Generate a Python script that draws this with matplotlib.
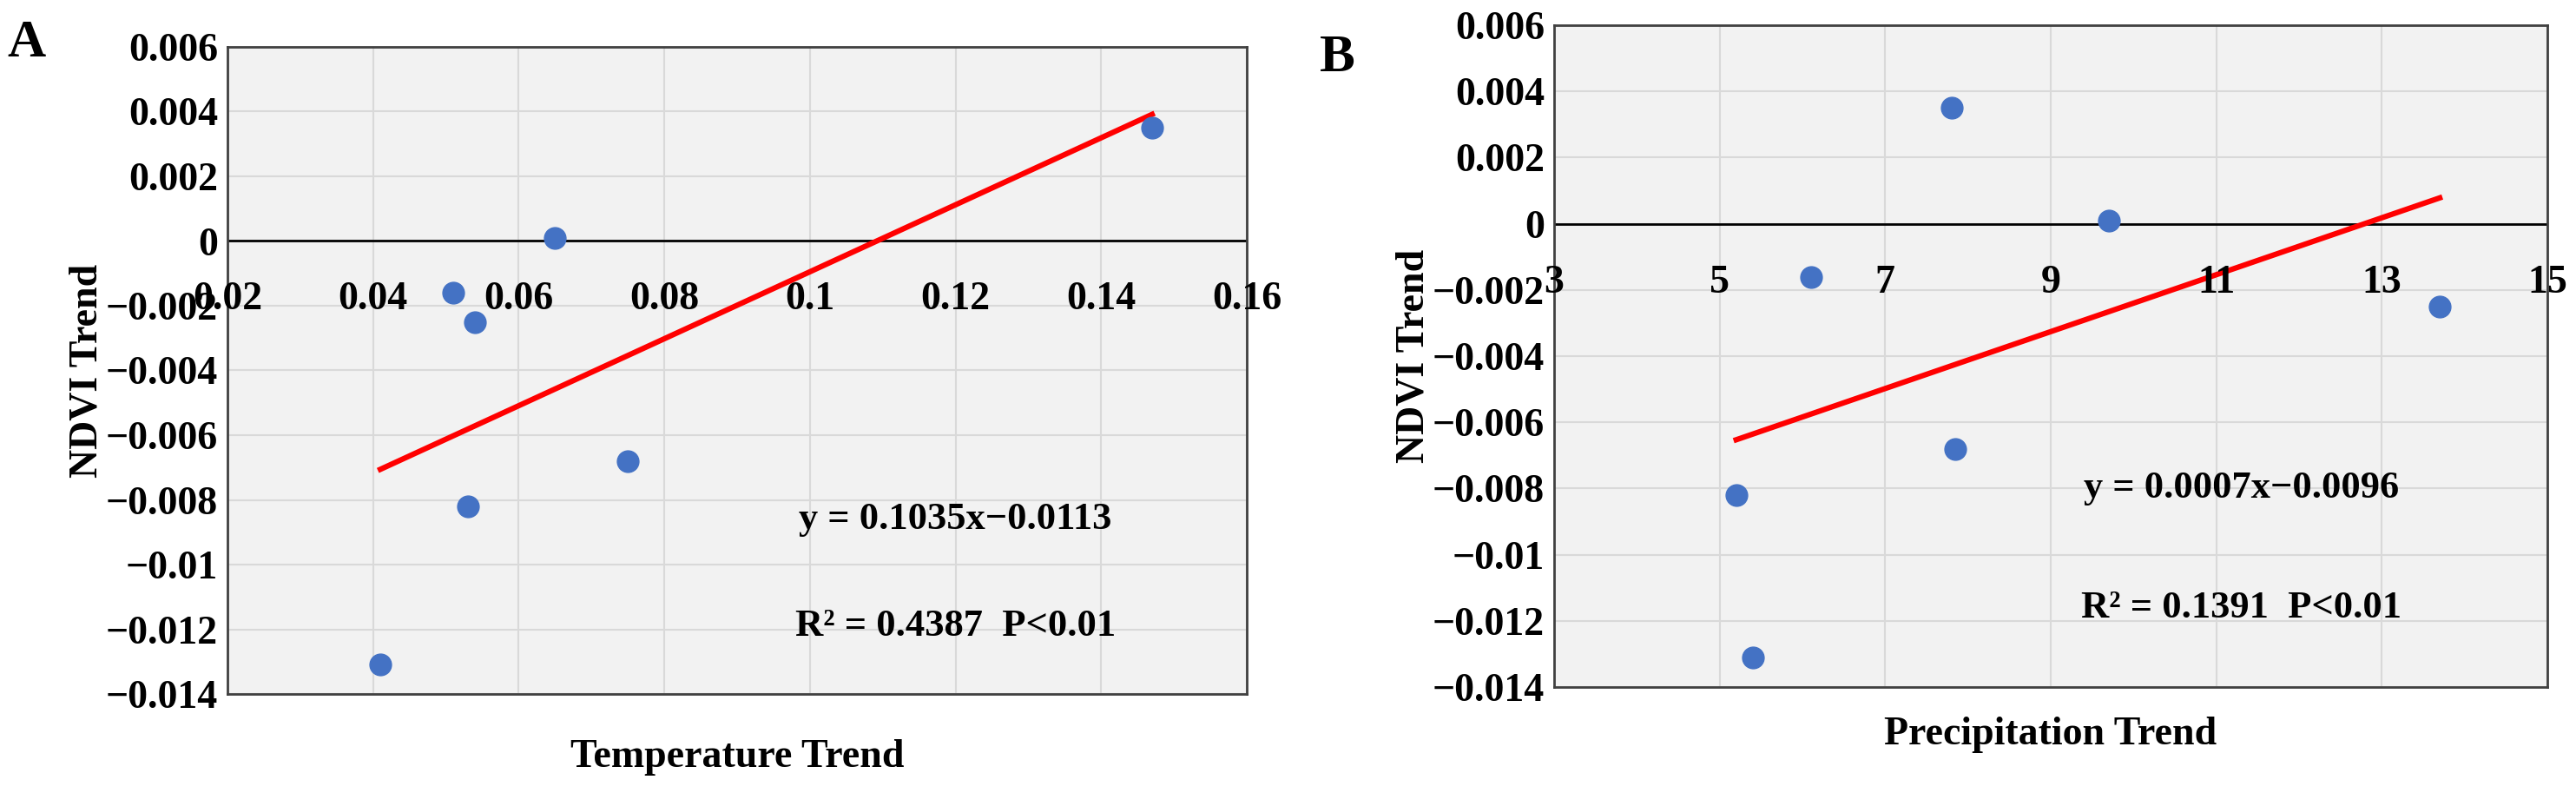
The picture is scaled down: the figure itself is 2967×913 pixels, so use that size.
import matplotlib
matplotlib.use("Agg")
import matplotlib.pyplot as plt
import numpy as np

temp_x = [0.041, 0.051, 0.054, 0.053, 0.065, 0.075, 0.147]
temp_y = [-0.0131, -0.0016, -0.0025, -0.0082, 0.0001, -0.0068, 0.0035]
prec_x = [5.2, 5.4, 6.1, 7.8, 7.85, 9.7, 13.7]
prec_y = [-0.0082, -0.0131, -0.0016, 0.0035, -0.0068, 0.0001, -0.0025]
fit_a = (0.1035, -0.0113)
fit_b = (0.00086, -0.0110)
yticks = [0.006, 0.004, 0.002, 0, -0.002, -0.004, -0.006, -0.008, -0.01, -0.012, -0.014]
xticks_a = [0.02, 0.04, 0.06, 0.08, 0.1, 0.12, 0.14, 0.16]
xticks_b = [3, 5, 7, 9, 11, 13, 15]

plt.rcParams['font.family'] = ['Liberation Serif', 'DejaVu Serif']
plt.rcParams['font.weight'] = 'bold'
W, H = 2967, 913
fig = plt.figure(figsize=(W/100, H/100), dpi=100)

def fmt(v):
    if v == 0:
        return "0"
    s = ("%g" % abs(v))
    return ("\u2212" if v < 0 else "") + s

def panel(rect, xs, ys, fit, xt, xlabel, letter, lpos, xlab_y, eq, r2, eqpos):
    ax = fig.add_axes(rect)
    ax.set_facecolor('#f2f2f2')
    ax.set_xlim(xt[0], xt[-1])
    ax.set_ylim(-0.014, 0.006)
    ax.set_xticks(xt)
    ax.set_yticks(yticks)
    ax.set_yticklabels([fmt(v) for v in yticks], fontsize=33, fontweight='bold')
    ax.set_xticklabels([])
    ax.tick_params(length=0, pad=8)
    ax.grid(True, color='#d9d9d9', lw=1.5)
    ax.set_axisbelow(True)
    for s in ax.spines.values():
        s.set_color('#404040'); s.set_linewidth(2)
    ax.axhline(0, color='black', lw=2, zorder=2)
    for v in xt:
        ax.text(v, -0.0018, fmt(v), ha='center', va='center', fontsize=33,
                fontweight='bold', zorder=5)
    ax.scatter(xs, ys, s=320, color='#4472C4', zorder=4)
    x0, x1 = min(xs), max(xs)
    lx = np.array([x0, x1])
    ax.plot(lx, fit[0]*lx + fit[1], color='red', lw=4.5, zorder=3)
    ax.set_ylabel('NDVI Trend', fontsize=33, fontweight='bold', labelpad=0)
    fig.text(rect[0] + rect[2]/2, xlab_y, xlabel, ha='center', va='center',
             fontsize=33, fontweight='bold')
    fig.text(lpos[0], lpos[1], letter, ha='left', va='center', fontsize=44, fontweight='bold')
    ax.text(eqpos[0], eqpos[1], eq, ha='center', va='center', fontsize=32, fontweight='bold')
    ax.text(eqpos[0], eqpos[2], r2, ha='center', va='center', fontsize=32, fontweight='bold')
    return ax

panel([262/W, 1-799/H, (1436-262)/W, (799-54)/H], temp_x, temp_y, fit_a, xticks_a,
      'Temperature Trend', 'A', (8/W, 1-50/H), 1-872/H,
      'y = 0.1035x\u22120.0113', 'R\u00b2 = 0.4387  P<0.01', (0.12, -0.0086, -0.0119))
panel([1790/W, 1-791/H, (2934-1790)/W, (791-29)/H], prec_x, prec_y, fit_b, xticks_b,
      'Precipitation Trend', 'B', (1520/W, 1-67/H), 1-846/H,
      'y = 0.0007x\u22120.0096', 'R\u00b2 = 0.1391  P<0.01', (11.3, -0.0080, -0.0116))

fig.savefig('out.png', dpi=100, facecolor='white')
